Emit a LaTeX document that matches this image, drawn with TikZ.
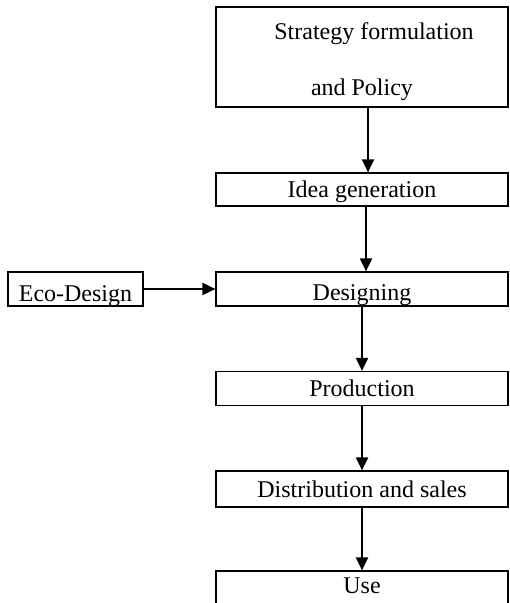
\documentclass[tikz,border=0pt]{standalone}
\usepackage{fontspec}
\setmainfont{Liberation Serif}
\usetikzlibrary{arrows.meta}

\begin{document}
\begin{tikzpicture}[x=0.5pt, y=-0.5pt,
    stage/.style={draw, line width=0.6pt, inner sep=0pt, minimum width=146pt,
        font=\fontsize{12}{14.4}\selectfont},
    stagerow/.style={stage, minimum height=17pt, text height=13pt, text depth=4pt},
    flow/.style={line width=1pt, -{Triangle[length=6.5pt,width=6pt]}}]
    \useasboundingbox (0,0) rectangle (509,603);

    % Stage 1: strategy box, two widely spaced lines
    \node[stage, minimum height=50pt, align=center] (policy) at (362,57)
        {\rule{0pt}{12.85pt}\hspace*{12pt}Strategy formulation\\[13.35pt]and Policy};

    % Main chain of stages
    \node[stagerow, minimum height=16.5pt, text height=12.5pt] (idea) at (362,189.5) {Idea generation};
    \node[stagerow, text height=14pt, text depth=3pt] (design) at (362,289) {Designing};
    \node[stagerow, text height=12.25pt, text depth=4.25pt] (production) at (362,388.5) {Production};
    \node[stagerow, minimum height=18pt, text height=13pt, text depth=5pt] (distribution) at (362,489) {Distribution and sales};
    \node[stagerow, minimum height=20pt, text height=11pt, text depth=9pt] (use) at (362,591) {Use};

    % Side input into designing
    \node[stagerow, minimum width=67.5pt, text height=14.5pt, text depth=2.5pt] (eco) at (75.5,289) {Eco-Design};

    % Arrows
    \draw[flow] ([xshift=3pt]policy.south) -- ([xshift=3pt]idea.north);
    \draw[flow] ([xshift=2pt]idea.south) -- ([xshift=2pt]design.north);
    \draw[flow] (eco) -- (design);
    \draw[flow] (design) -- (production);
    \draw[flow] (production) -- (distribution);
    \draw[flow] (distribution) -- (use);
\end{tikzpicture}
\end{document}
